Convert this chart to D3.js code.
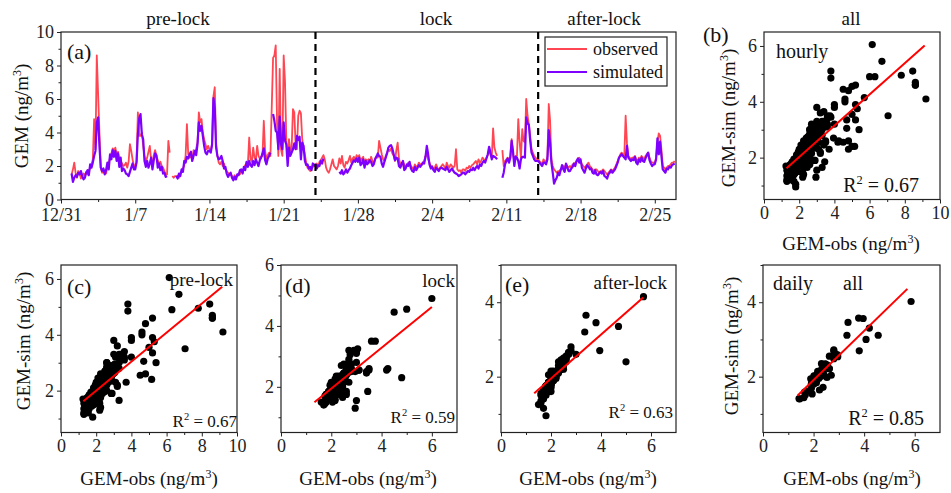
<!DOCTYPE html>
<html>
<head>
<meta charset="utf-8">
<script src="https://cdn.jsdelivr.net/npm/d3@7"></script>
<style>
  body { margin: 0; background: #fff; }
  svg { font-family: "Liberation Serif", "Times New Roman", serif; }
</style>
</head>
<body>
<svg id="chart" width="951" height="493"></svg>
<script>
// ---- data -------------------------------------------------------------
// time axis: days since 12/31 00:00; one row per day from 1/1, 3-hourly values
const dateTicks  = [0, 7, 14, 21, 28, 35, 42, 49, 56];
const dateLabels = ["12/31", "1/7", "1/14", "1/21", "1/28", "2/4", "2/11", "2/18", "2/25"];
const periodNames = ["pre-lock", "lock", "after-lock"];
const lockStart = 24, lockEnd = 45;
const firstDay = 1;

const obs3h = [
  [1.5, 1.8, 2.2, 1.6, 1.3, 1.7, 1.6, 1.25], [1.35, 1.55, 1.45, 1.65, 1.5, 1.75, 1.85, 2.05],
  [2.4, 4.8, 3.0, 8.6, 6.3, 4.0, 1.9, 1.6], [1.6, 1.75, 1.55, 1.95, 2.15, 2.5, 2.75, 3.05],
  [2.9, 3.1, 2.65, 2.85, 2.45, 2.3, 2.15, 2.0], [2.05, 2.2, 1.9, 2.25, 3.3, 2.9, 2.4, 2.0],
  [2.0, 2.3, 5.2, 3.8, 3.8, 4.0, 3.2, 2.6], [2.25, 2.5, 2.85, 3.2, 2.35, 2.2, 2.65, 2.95],
  [2.6, 2.35, 2.1, 2.25, 2.0, 1.9, 1.7, 1.5], [1.5, 3.5, 2.8, null, 1.4, 1.3, 1.4, 1.4],
  [1.4, 1.3, 1.55, 1.65, 1.85, 2.05, 2.6, 4.5], [2.7, 2.5, 2.6, 2.4, 2.95, 2.8, 3.05, 3.4],
  [5.2, 4.6, 4.8, 4.0, 3.6, 3.3, 3.0, 3.2], [3.0, 2.9, 3.3, 6.15, 6.7, 3.4, 2.6, 2.2],
  [2.1, 2.25, 2.0, 2.15, 1.8, 1.7, 1.6, 1.5], [1.5, 1.4, 1.3, 1.45, 1.3, 1.4, 1.55, 1.5],
  [1.7, 1.6, 1.85, 2.05, 2.2, 2.15, 3.7, 2.4], [2.25, 3.1, 2.5, 2.35, 3.2, 2.6, 2.45, 2.55],
  [2.6, 4.7, 2.9, 2.4, 2.65, 2.8, 2.6, 5.5], [8.45, 8.6, 9.2, 4.6, 2.6, 7.8, 3.0, 2.6],
  [8.6, 7.05, 3.5, 2.4, 3.6, 2.9, 3.0, 5.4], [5.2, 3.3, 3.0, 5.0, 5.3, 5.15, 3.6, 3.1],
  [2.7, 2.2, 1.9, 1.8, 1.7, 1.85, 1.95, 2.0], [2.0, 2.15, 1.95, 2.25, 2.35, 2.5, 2.65, 2.4],
  [1.9, 1.7, 1.6, 1.8, 2.1, 2.4, 2.0, 1.9], [1.8, 2.0, 2.45, 2.15, 2.6, 2.05, 1.9, 2.25],
  [2.15, 2.35, 2.6, 2.2, 2.45, 2.55, 2.3, 2.65], [2.5, 2.65, 2.3, 2.45, 2.55, 2.2, 2.4, 2.3],
  [2.4, 2.2, 2.55, 2.3, 2.15, 2.45, 2.6, 2.5], [3.5, 3.1, 2.7, 2.4, 2.3, 2.6, 2.8, 3.0],
  [2.9, 3.05, 2.75, 2.6, 2.3, 2.95, 3.4, 2.45], [2.1, 2.0, 2.25, 2.1, 1.9, 2.05, 2.2, 2.15],
  [2.0, 1.9, 1.8, 2.1, 1.95, 2.0, 2.2, 2.1], [2.1, 2.2, 2.3, 2.6, 2.7, 2.4, 2.2, 2.0],
  [2.0, 1.8, 1.9, 2.1, 1.9, 1.75, 1.9, 2.0], [2.1, 2.0, 1.8, 2.2, 2.0, 1.9, 2.1, 2.0],
  [1.9, 2.0, 3.0, 1.8, 1.7, 1.75, 1.6, 1.8], [1.8, 1.7, 1.9, 1.85, 2.0, 1.9, 2.05, 2.1],
  [2.2, 2.3, 2.1, 2.4, 2.2, 2.3, 2.5, 2.4], [2.3, 2.5, 2.65, 3.0, 2.7, 2.5, 4.25, 3.1],
  [2.8, 2.6, null, null, null, 2.95, 2.0, 2.3], [2.4, 2.5, 2.3, 2.6, 3.6, 2.7, 2.3, 2.6],
  [2.6, 4.8, 3.45, 2.5, 4.2, 3.5, 3.4, 6.0], [5.0, 4.5, 3.75, 3.0, 2.8, 2.6, 2.5, 2.4],
  [2.4, 2.3, 2.2, 2.1, 2.4, 2.3, 2.2, 2.6], [5.7, 4.7, 2.4, 2.0, 1.8, 1.7, 1.6, 1.7],
  [1.7, 1.8, 1.9, 2.0, 1.9, 2.1, 2.0, 1.9], [2.0, 1.9, 2.1, 2.0, 2.2, 2.3, 2.4, 2.5],
  [2.3, 2.1, 2.0, 1.9, 2.0, 2.1, 2.2, 2.0], [1.9, 1.8, 1.7, 1.8, 1.8, 1.7, 1.6, 1.7],
  [1.7, 1.8, 1.7, 1.6, 1.5, 1.6, 1.7, 1.8], [1.7, 1.8, 1.9, 2.1, 2.3, 2.5, 2.7, 2.8],
  [2.7, 2.6, 5.0, 3.35, 2.6, 2.5, 2.4, 2.5], [2.5, 2.6, 2.4, 2.3, 2.5, 2.4, 2.6, 2.5],
  [2.4, 2.6, 2.7, 2.8, 2.5, 2.3, 2.2, 2.2], [2.2, 2.5, 3.4, 3.95, 3.8, 3.0, 2.0, 1.9],
  [1.8, 1.9, 2.0, 2.0, 2.1, 2.2, 2.2, 2.3]
];

const sim3h = [
  [1.55, 1.05, 1.3, 1.45, 1.35, 1.6, 1.5, 1.7], [1.4, 1.2, 1.3, 1.6, 1.75, 1.45, 2.1, 1.9],
  [2.2, 2.6, 2.9, 4.6, 4.9, 3.2, 1.9, 1.7], [1.85, 1.5, 1.75, 2.2, 1.8, 2.7, 2.4, 2.95],
  [2.55, 2.9, 2.3, 2.75, 1.95, 2.5, 1.7, 1.85], [1.75, 1.55, 1.5, 1.4, 1.65, 1.9, 2.15, 1.8],
  [1.8, 2.2, 3.9, 4.85, 5.1, 3.9, 3.6, 2.3], [1.95, 2.3, 1.9, 2.15, 2.5, 1.8, 2.35, 2.75],
  [2.65, 1.9, 2.15, 1.75, 1.95, 1.55, 1.6, 1.35], [1.4, null, null, null, null, null, null, 1.4],
  [1.25, 1.55, 1.4, 1.8, 1.65, 2.3, 2.2, 2.55], [2.45, 2.7, 2.85, 2.3, 2.6, 2.9, 2.65, 3.3],
  [4.6, 4.1, 4.4, 3.8, 3.2, 2.8, 2.7, 2.9], [2.9, 2.8, 3.3, 6.05, 5.45, 3.1, 2.6, 2.4],
  [2.45, 2.6, 2.3, 1.85, 1.95, 1.55, 1.35, 1.5], [1.6, 1.3, 1.15, 1.35, 1.2, 1.5, 1.45, 1.75],
  [1.8, 1.55, 1.95, 1.75, 2.25, 1.95, 2.3, 2.05], [1.95, 2.3, 2.05, 2.4, 2.2, 2.0, 2.35, 2.5],
  [2.75, 3.05, 2.35, 2.1, 2.45, 2.6, 2.8, null], [5.1, 4.7, 4.1, 4.0, 3.0, 4.95, 3.3, 3.0],
  [4.6, 3.5, 3.3, 2.0, 3.1, 2.6, 2.8, 3.0], [3.35, 3.0, 3.8, 3.55, 3.75, 2.4, 3.4, 3.2],
  [2.3, 2.05, 2.1, 1.85, 1.95, 1.75, 2.15, 2.05], [2.1, 1.85, 2.05, 2.0, 2.3, 2.15, 2.45, null],
  [null, null, null, null, null, null, null, null], [null, null, 1.65, 1.55, 1.75, 1.5, 1.6, 1.8],
  [1.6, 1.75, 1.85, 2.05, 2.2, 2.35, 2.25, 2.45], [2.25, 2.5, 2.05, 2.15, 2.4, 1.9, 2.3, 2.1],
  [2.2, 2.35, 2.25, 2.0, 2.1, 2.4, 2.55, 2.75], [2.6, 2.55, 2.15, 1.95, 2.25, 2.5, 2.75, 3.1],
  [3.2, 3.25, 3.05, 2.7, 2.35, 2.5, 2.45, 2.0], [1.9, 2.15, 2.3, 1.75, 1.85, 2.1, 2.0, 2.25],
  [1.85, 1.7, 1.65, 1.95, 1.75, 1.9, 2.05, 1.95], [2.05, 2.2, 2.15, 2.55, 3.2, 2.7, 2.1, 1.85],
  [1.95, 1.75, 1.65, 1.9, 1.8, 1.7, 1.85, 1.9], [1.85, 1.8, 1.75, 1.95, 1.8, 1.65, 1.75, 1.85],
  [1.7, 1.6, 1.55, 1.5, 1.4, 1.45, 1.5, 1.6], [1.6, 1.5, 1.6, 1.7, 1.65, 1.8, 1.75, 1.9],
  [1.75, 1.9, 2.0, 1.85, 2.1, 2.0, 2.2, 2.3], [2.2, 2.45, 2.7, 3.15, 2.8, 2.4, 2.6, 2.55],
  [2.5, 2.4, null, null, null, 1.3, 1.6, 2.1], [2.3, 2.45, 2.2, 2.5, 3.5, 2.9, 2.0, 2.55],
  [2.5, 2.3, 1.85, 2.4, 2.55, 2.55, 2.5, 4.9], [4.55, 4.45, 3.5, 2.8, 2.6, 2.4, 2.3, 2.3],
  [2.3, 2.2, 2.1, 2.0, 2.2, 2.2, 2.1, 2.4], [4.15, 3.35, 2.2, 1.6, 0.95, 1.15, 1.3, 1.6],
  [1.45, 1.75, 2.05, 1.8, 1.65, 2.15, 1.9, 1.7], [1.7, 1.85, 1.95, 2.15, 2.0, 2.3, 2.45, 2.2],
  [2.4, 1.9, 1.75, 1.6, 1.85, 2.05, 1.95, 1.8], [1.85, 1.6, 1.55, 1.75, 1.5, 1.45, 1.55, 1.65],
  [1.55, 1.7, 1.4, 1.35, 1.25, 1.5, 1.6, 1.75], [1.6, 1.7, 1.8, 2.0, 2.2, 2.5, 2.6, 2.7],
  [2.6, 2.5, 2.4, 3.2, 2.5, 2.4, 2.3, 2.4], [2.35, 2.55, 2.2, 2.1, 2.4, 2.25, 2.5, 2.3],
  [2.25, 2.45, 2.65, 2.8, 2.35, 2.15, 2.0, 2.1], [2.1, 2.4, 3.65, 2.7, 3.45, 2.6, 1.8, 1.7],
  [1.6, 1.85, 1.8, 1.95, 1.9, 2.05, 2.1, 2.15]
];

// linear fits: [slope, intercept, xFrom, xTo]
const fitAll   = [0.56, 0.90, 1.28, 9.13];
const fitPre   = [0.52, 0.96, 1.27, 9.16];
const fitLock  = [0.67, 0.60, 1.33, 6.00];
const fitAfter = [0.59, 0.77, 1.33, 5.69];
const fitDaily = [0.66, 0.59, 1.37, 5.71];
const r2Labels = ["0.67", "0.67", "0.59", "0.63", "0.85"];

// ---- build records ----------------------------------------------------
const series = [];
obs3h.forEach((row, i) => {
  row.forEach((v, k) => {
    series.push({ day: firstDay + i, t: firstDay + i + k / 8, obs: v, sim: sim3h[i][k] });
  });
});
const pairs = series.filter(d => d.obs != null && d.sim != null);
const prePairs   = pairs.filter(d => d.t < lockStart);
const lockPairs  = pairs.filter(d => d.t >= lockStart && d.t < lockEnd);
const afterPairs = pairs.filter(d => d.t >= lockEnd);
const dailyPairs = Array.from(d3.group(pairs, d => d.day), ([day, v]) => ({
  obs: d3.mean(v, d => d.obs), sim: d3.mean(v, d => d.sim)
}));

// ---- drawing helpers --------------------------------------------------
const svg = d3.select("#chart");
const RED = "#ff4652", PURPLE = "#7f00ff";

function makePanel(x0, x1, y0, y1, xDom, yDom) {
  return {
    box: { x0, x1, y0, y1 },
    x: d3.scaleLinear().domain(xDom).range([x0, x1]),
    y: d3.scaleLinear().domain(yDom).range([y1, y0])
  };
}

function drawAxes(p, xMajor, xMinor, yMajor, yMinor, xFmt, xPad) {
  const b = p.box;
  const fix = g => g.attr("font-family", null).attr("font-size", 18)
    .call(s => s.select(".domain").remove())
    .call(s => s.selectAll(".tick line").attr("stroke", "#222"))
    .call(s => s.selectAll(".tick text").attr("fill", "#222"));
  svg.append("g").attr("transform", `translate(0,${b.y1})`)
    .call(d3.axisBottom(p.x).tickValues(xMajor).tickSize(4).tickPadding(xPad || 3)
      .tickFormat(xFmt || (d => d)))
    .call(fix);
  svg.append("g").attr("transform", `translate(0,${b.y1})`)
    .call(d3.axisBottom(p.x).tickValues(xMinor).tickSize(2.5).tickFormat(""))
    .call(fix);
  svg.append("g").attr("transform", `translate(${b.x0},0)`)
    .call(d3.axisLeft(p.y).tickValues(yMajor).tickSize(4).tickPadding(3).tickFormat(d => d))
    .call(fix);
  svg.append("g").attr("transform", `translate(${b.x0},0)`)
    .call(d3.axisLeft(p.y).tickValues(yMinor).tickSize(2.5).tickFormat(""))
    .call(fix);
  svg.append("rect")
    .attr("x", b.x0).attr("y", b.y0)
    .attr("width", b.x1 - b.x0).attr("height", b.y1 - b.y0)
    .attr("fill", "none").attr("stroke", "#222").attr("stroke-width", 1.2);
}

function addText(x, y, str, size, anchor) {
  return svg.append("text").attr("x", x).attr("y", y)
    .attr("font-size", size).attr("text-anchor", anchor || "start")
    .attr("fill", "#111").text(str);
}

function unitLabel(x, y, prefix, rotate) {
  const t = svg.append("text")
    .attr("transform", rotate ? `translate(${x},${y}) rotate(-90)` : `translate(${x},${y})`)
    .attr("text-anchor", "middle").attr("font-size", 19).attr("fill", "#111");
  t.append("tspan").text(prefix + " (ng/m");
  t.append("tspan").attr("dy", -7).attr("font-size", 12).text("3");
  t.append("tspan").attr("dy", 7).text(")");
}

function r2Label(x, y, val, size) {
  const t = svg.append("text").attr("x", x).attr("y", y)
    .attr("text-anchor", "end").attr("font-size", size).attr("fill", "#111");
  t.append("tspan").text("R");
  t.append("tspan").attr("dy", -size * 0.4).attr("font-size", size * 0.62).text("2");
  t.append("tspan").attr("dy", size * 0.4).text(" = " + val);
}

function scatter(p, data, fit) {
  svg.append("g").selectAll("circle").data(data).join("circle")
    .attr("cx", d => p.x(d.obs)).attr("cy", d => p.y(d.sim))
    .attr("r", 3.6).attr("fill", "#000");
  const [m, c, xa, xb] = fit;
  svg.append("line")
    .attr("x1", p.x(xa)).attr("y1", p.y(m * xa + c))
    .attr("x2", p.x(xb)).attr("y2", p.y(m * xb + c))
    .attr("stroke", "#ff0000").attr("stroke-width", 2);
}

// ---- (a) time series --------------------------------------------------
const pa = makePanel(61, 676, 32, 199.5, [0, 58], [0, 10]);
drawAxes(pa, dateTicks, dateTicks.map(d => d + 3.5).filter(d => d < 58),
  [0, 2, 4, 6, 8, 10], [1, 3, 5, 7, 9], (d, i) => dateLabels[i], 5);

const lineObs = d3.line().defined(d => d.obs != null).x(d => pa.x(d.t)).y(d => pa.y(d.obs));
const lineSim = d3.line().defined(d => d.sim != null).x(d => pa.x(d.t)).y(d => pa.y(d.sim));
svg.append("path").datum(series).attr("d", lineObs)
  .attr("fill", "none").attr("stroke", RED).attr("stroke-width", 1.8).attr("stroke-linejoin", "round");
svg.append("path").datum(series).attr("d", lineSim)
  .attr("fill", "none").attr("stroke", PURPLE).attr("stroke-width", 2.2).attr("stroke-linejoin", "round");

[lockStart, lockEnd].forEach(d => {
  svg.append("line")
    .attr("x1", pa.x(d)).attr("x2", pa.x(d))
    .attr("y1", pa.box.y0).attr("y2", pa.box.y1)
    .attr("stroke", "#000").attr("stroke-width", 2.2).attr("stroke-dasharray", "7,5");
});

// period names above panel (a)
const periodCenters = [178, 436, 604];
periodNames.forEach((n, i) => addText(periodCenters[i], 25, n, 19, "middle"));
addText(67, 59, "(a)", 22);
unitLabel(28, 116, "GEM", true);

// legend
svg.append("rect").attr("x", 545).attr("y", 37).attr("width", 122).attr("height", 49)
  .attr("fill", "#fff").attr("stroke", "#222").attr("stroke-width", 1.2);
[["observed", RED, 49], ["simulated", PURPLE, 72]].forEach(([name, col, yy]) => {
  svg.append("line").attr("x1", 547).attr("x2", 587).attr("y1", yy).attr("y2", yy)
    .attr("stroke", col).attr("stroke-width", 2.2);
  addText(593, yy + 6, name, 18);
});

// ---- (b) hourly, all --------------------------------------------------
const pb = makePanel(764, 940, 32, 199.5, [0, 10], [0.5, 6.5]);
drawAxes(pb, [0, 2, 4, 6, 8, 10], [1, 3, 5, 7, 9], [2, 4, 6], [1, 3, 5]);
scatter(pb, pairs, fitAll);
addText(851, 25, "all", 19, "middle");
addText(703, 42, "(b)", 22);
addText(776, 58, "hourly", 20);
r2Label(919, 192, r2Labels[0], 20);
unitLabel(735, 118, "GEM-sim", true);
unitLabel(851, 250, "GEM-obs", false);

// ---- (c) pre-lock -----------------------------------------------------
const pc = makePanel(61, 237, 265, 432.5, [0, 10], [0.5, 6.5]);
drawAxes(pc, [0, 2, 4, 6, 8, 10], [1, 3, 5, 7, 9], [2, 4, 6], [1, 3, 5]);
scatter(pc, prePairs, fitPre);
addText(67, 294, "(c)", 22);
addText(233, 286, periodNames[0], 19, "end");
r2Label(237, 427, r2Labels[1], 17);
unitLabel(30, 341, "GEM-sim", true);
unitLabel(149, 485, "GEM-obs", false);

// ---- (d) lock ---------------------------------------------------------
const pd = makePanel(281, 457, 265, 432.5, [0, 7], [0.5, 6]);
drawAxes(pd, [0, 2, 4, 6], [1, 3, 5], [2, 4, 6], [1, 3, 5]);
scatter(pd, lockPairs, fitLock);
addText(285, 293, "(d)", 22);
addText(455, 287, periodNames[1], 19, "end");
r2Label(455, 423, r2Labels[2], 17);
unitLabel(368, 485, "GEM-obs", false);

// ---- (e) after-lock ---------------------------------------------------
const pe = makePanel(501, 676, 265, 432.5, [0, 7], [0.5, 5]);
drawAxes(pe, [0, 2, 4, 6], [1, 3, 5], [2, 4], [1, 3, 5]);
scatter(pe, afterPairs, fitAfter);
addText(505, 292, "(e)", 22);
addText(667, 289, periodNames[2], 19, "end");
r2Label(673, 418, r2Labels[3], 17);
unitLabel(588, 485, "GEM-obs", false);

// ---- daily, all -------------------------------------------------------
const pf = makePanel(763, 940, 265, 432.5, [0, 7], [0.5, 5]);
drawAxes(pf, [0, 2, 4, 6], [1, 3, 5], [2, 4], [1, 3, 5]);
scatter(pf, dailyPairs, fitDaily);
addText(773, 290, "daily", 20);
addText(843, 290, "all", 20);
r2Label(924, 425, r2Labels[4], 20);
unitLabel(738, 346, "GEM-sim", true);
unitLabel(852, 485, "GEM-obs", false);
</script>
</body>
</html>
